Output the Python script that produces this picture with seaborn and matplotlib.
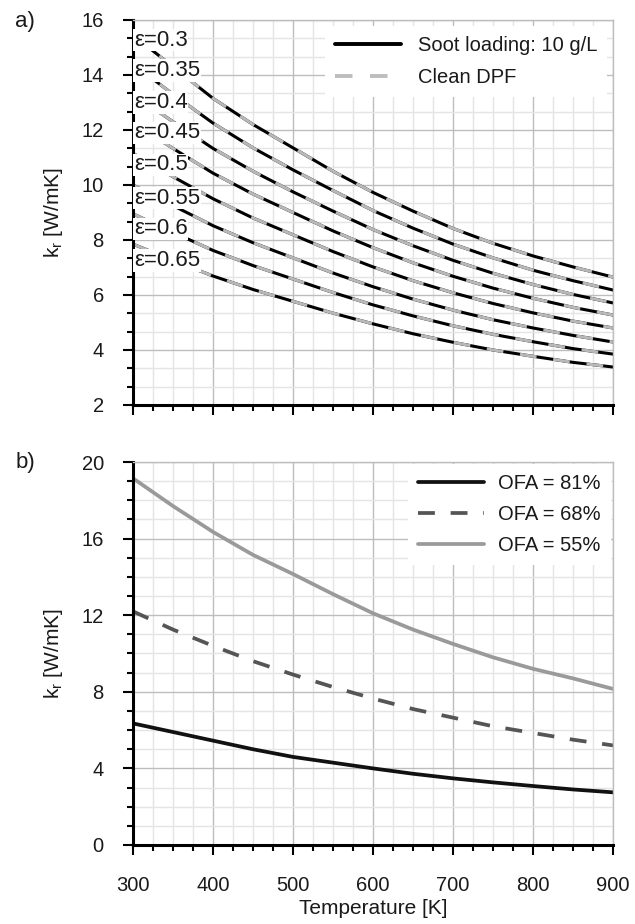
import numpy as np
import pandas as pd
import matplotlib
matplotlib.use("Agg")
import matplotlib.pyplot as plt
import seaborn as sns
from matplotlib.lines import Line2D
from matplotlib.ticker import MultipleLocator

temps = [300, 350, 400, 450, 500, 550, 600, 650, 700, 750, 800, 850, 900]

# a) radiative conductivity for several porosities
eps_labels = ["0.3", "0.35", "0.4", "0.45", "0.5", "0.55", "0.6", "0.65"]
kr_eps = [
    [15.45, 14.30, 13.15, 12.20, 11.35, 10.50, 9.73, 9.05, 8.42, 7.88, 7.42, 7.02, 6.65],
    [14.40, 13.30, 12.25, 11.35, 10.55, 9.80, 9.07, 8.43, 7.85, 7.35, 6.90, 6.52, 6.18],
    [13.30, 12.30, 11.33, 10.50, 9.75, 9.05, 8.38, 7.79, 7.26, 6.79, 6.38, 6.02, 5.71],
    [12.25, 11.33, 10.43, 9.67, 9.00, 8.33, 7.72, 7.17, 6.68, 6.25, 5.88, 5.55, 5.27],
    [11.15, 10.30, 9.50, 8.80, 8.19, 7.58, 7.02, 6.52, 6.08, 5.69, 5.35, 5.05, 4.80],
    [10.00, 9.25, 8.52, 7.90, 7.35, 6.80, 6.30, 5.85, 5.45, 5.10, 4.80, 4.53, 4.29],
    [8.95, 8.28, 7.62, 7.07, 6.58, 6.09, 5.64, 5.24, 4.88, 4.57, 4.30, 4.05, 3.85],
    [7.85, 7.26, 6.69, 6.20, 5.77, 5.34, 4.95, 4.59, 4.28, 4.00, 3.77, 3.55, 3.38],
]

# b) radiative conductivity for three open frontal areas
ofa_labels = ["OFA = 81%", "OFA = 68%", "OFA = 55%"]
kr_ofa81 = [6.35, 5.90, 5.45, 5.00, 4.60, 4.30, 4.00, 3.72, 3.48, 3.27, 3.08, 2.90, 2.75]
kr_ofa68 = [12.20, 11.25, 10.40, 9.60, 8.90, 8.25, 7.65, 7.10, 6.65, 6.20, 5.85, 5.50, 5.20]
kr_ofa55 = [19.15, 17.70, 16.35, 15.15, 14.15, 13.10, 12.10, 11.25, 10.50, 9.80, 9.20, 8.70, 8.15]

sns.set_theme(style="white")
plt.rcParams["font.family"] = ["Liberation Sans", "DejaVu Sans"]
plt.rcParams["mathtext.default"] = "regular"

top = pd.DataFrame({
    "T": np.tile(temps, len(eps_labels)),
    "k": np.concatenate(kr_eps),
    "eps": np.repeat(eps_labels, len(temps)),
})

fig = plt.figure(figsize=(6.35, 9.24), dpi=100)
ax1 = fig.add_axes([0.2094, 0.5617, 0.756, 0.4167])
ax2 = fig.add_axes([0.2094, 0.0855, 0.756, 0.4145])
txt = "#1a1a1a"


def style_axes(ax, ymax, ymaj, ymin):
    ax.set_xlim(300, 900)
    ax.set_ylim(ymin, ymax)
    ax.xaxis.set_major_locator(MultipleLocator(100))
    ax.xaxis.set_minor_locator(MultipleLocator(25))
    ax.yaxis.set_major_locator(MultipleLocator(ymaj))
    ax.yaxis.set_minor_locator(MultipleLocator(ymaj / (3 if ymaj == 2 else 4)))
    ax.grid(which="major", color="#bdbdbd", lw=1)
    ax.grid(which="minor", color="#e4e4e4", lw=1)
    ax.set_axisbelow(True)
    for s in ["left", "bottom"]:
        ax.spines[s].set_color("black")
        ax.spines[s].set_linewidth(2.2)
    for s in ["top", "right"]:
        ax.spines[s].set_color("#bdbdbd")
        ax.spines[s].set_linewidth(1)
    ax.tick_params(which="both", direction="out", left=True, bottom=True,
                   top=False, right=False, width=1.5, color="black",
                   labelsize=14.5, labelcolor=txt)
    ax.tick_params(which="major", length=7)
    ax.tick_params(which="minor", length=4.5)
    ax.tick_params(axis="y", which="major", pad=14)
    ax.tick_params(axis="x", which="major", pad=15)
    ax.set_ylabel("k$_r$ [W/mK]", fontsize=15, labelpad=12, color=txt)
    ax.set_xlabel("")


# ---- panel a ----
sns.lineplot(data=top, x="T", y="k", units="eps", estimator=None, ax=ax1,
             color="black", lw=2.2, legend=False)
sns.lineplot(data=top, x="T", y="k", units="eps", estimator=None, ax=ax1,
             color="#b8b8b8", lw=2.2, linestyle=(0, (5.5, 5.5)), legend=False)
style_axes(ax1, 16, 2, 2)
ax1.tick_params(axis="x", labelbottom=False)

for i, (lab, ks) in enumerate(zip(eps_labels, kr_eps)):
    ax1.text(301, ks[0] - 0.18 - 0.06 * i, "\u03b5=" + lab, ha="left", va="center",
             fontsize=16, color=txt, zorder=5,
             bbox=dict(fc="white", ec="none", pad=0.5))

h_top = [Line2D([], [], color="black", lw=2.8),
         Line2D([], [], color="#bdbdbd", lw=2.8, linestyle=(0, (4.5, 4.5)))]
leg = ax1.legend(h_top, ["Soot loading: 10 g/L", "Clean DPF"], loc="upper right",
                 frameon=True, framealpha=1, edgecolor="none", fancybox=False,
                 fontsize=14.5, handlelength=3.3, handletextpad=0.8,
                 borderaxespad=0.3, labelspacing=0.65, borderpad=0.5)
for t in leg.get_texts():
    t.set_color(txt)

# ---- panel b ----
sns.lineplot(x=temps, y=kr_ofa81, ax=ax2, color="#111111", lw=2.7, label=ofa_labels[0])
sns.lineplot(x=temps, y=kr_ofa68, ax=ax2, color="#555555", lw=2.7,
             linestyle=(0, (4.5, 4.2)), label=ofa_labels[1])
sns.lineplot(x=temps, y=kr_ofa55, ax=ax2, color="#9a9a9a", lw=2.7, label=ofa_labels[2])
style_axes(ax2, 20, 4, 0)
ax2.set_xlabel("Temperature [K]", fontsize=15, labelpad=3, color=txt)

leg2 = ax2.legend(loc="upper right", frameon=True, framealpha=1, edgecolor="none",
                  fancybox=False, fontsize=14.5, handlelength=3.3,
                  handletextpad=0.7, borderaxespad=0.1,
                  labelspacing=0.6, borderpad=0.5)
for t in leg2.get_texts():
    t.set_color(txt)

fig.text(0.024, 0.977, "a)", fontsize=16, va="center", ha="left", color=txt)
fig.text(0.024, 0.499, "b)", fontsize=16, va="center", ha="left", color=txt)

fig.savefig("out.png", dpi=100)
